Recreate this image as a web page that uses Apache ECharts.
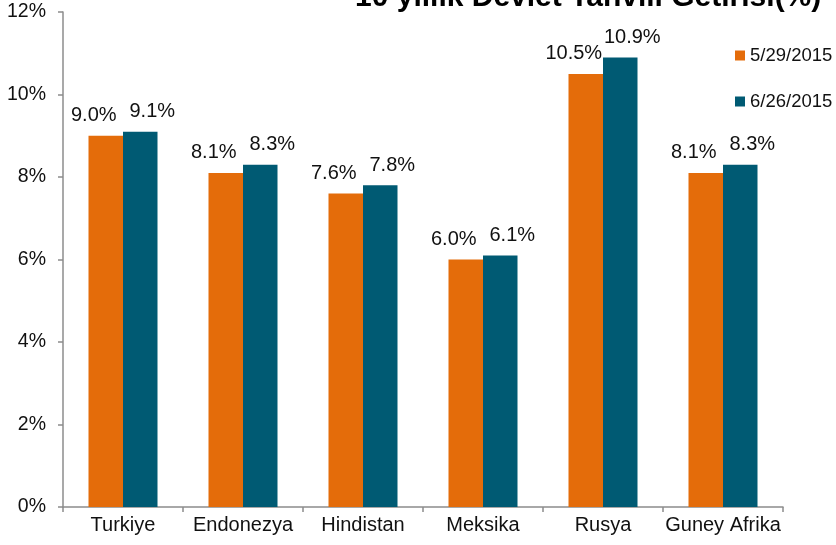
<!DOCTYPE html>
<html>
<head>
<meta charset="utf-8">
<script src="https://cdn.jsdelivr.net/npm/echarts@6/dist/echarts.min.js"></script>
<style>html,body{margin:0;padding:0;background:#fff;}#c{width:836px;height:545px;}</style>
</head>
<body>
<div id="c"></div>
<script>
const categories = ['Turkiye', 'Endonezya', 'Hindistan', 'Meksika', 'Rusya', 'Guney Afrika'];
const seriesNames = ['5/29/2015', '6/26/2015'];
const values529 = [9.0, 8.1, 7.6, 6.0, 10.5, 8.1];
const values626 = [9.1, 8.3, 7.8, 6.1, 10.9, 8.3];
const yTicks = [0, 2, 4, 6, 8, 10, 12];
const titleText = '10 yıllık Devlet Tahvili Getirisi(%)';

const FONT = '"Liberation Sans", Arial, sans-serif';
const chart = echarts.init(document.getElementById('c'), null, {renderer: 'canvas'});
const labelCfg = (dx) => ({
  show: true, position: 'top', distance: 10, offset: [dx, 0],
  fontFamily: FONT, fontSize: 20, color: '#111',
  formatter: p => p.value.toFixed(1) + '%'
});
chart.setOption({
  backgroundColor: '#fff',
  animation: false,
  textStyle: {fontFamily: FONT},
  graphic: [{
    type: 'text', left: 355, top: -17,
    style: {text: titleText, fontFamily: FONT, fontSize: 30, fontWeight: 'bold', fill: '#000'}
  }],
  legend: {
    orient: 'vertical', left: 730, top: 41,
    itemWidth: 10, itemHeight: 10, itemGap: 27, icon: 'rect',
    textStyle: {fontFamily: FONT, fontSize: 18.5, color: '#111'},
    data: seriesNames
  },
  grid: {left: 63, right: 53, top: 12, bottom: 38, containLabel: false},
  xAxis: {
    type: 'category', data: categories,
    axisLine: {lineStyle: {color: '#8c8c8c', width: 1.5}},
    axisTick: {show: true, length: 5, lineStyle: {color: '#8c8c8c', width: 1.5}},
    axisLabel: {fontFamily: FONT, fontSize: 20, color: '#111', margin: 8, interval: 0}
  },
  yAxis: {
    type: 'value', min: yTicks[0], max: yTicks[yTicks.length - 1], interval: 2,
    axisLine: {show: true, lineStyle: {color: '#8c8c8c', width: 1.5}},
    axisTick: {show: true, length: 5, lineStyle: {color: '#8c8c8c', width: 1.5}},
    splitLine: {show: false},
    axisLabel: {fontFamily: FONT, fontSize: 19.5, color: '#111', margin: 17, formatter: '{value}%'}
  },
  series: [
    {name: seriesNames[0], type: 'bar', data: values529, barGap: '0%', barCategoryGap: '42.5%',
     itemStyle: {color: '#E46C0A'}, label: labelCfg(-12)},
    {name: seriesNames[1], type: 'bar', data: values626, barGap: '0%', barCategoryGap: '42.5%',
     itemStyle: {color: '#005A73'}, label: labelCfg(12)}
  ]
});
</script>
</body>
</html>
